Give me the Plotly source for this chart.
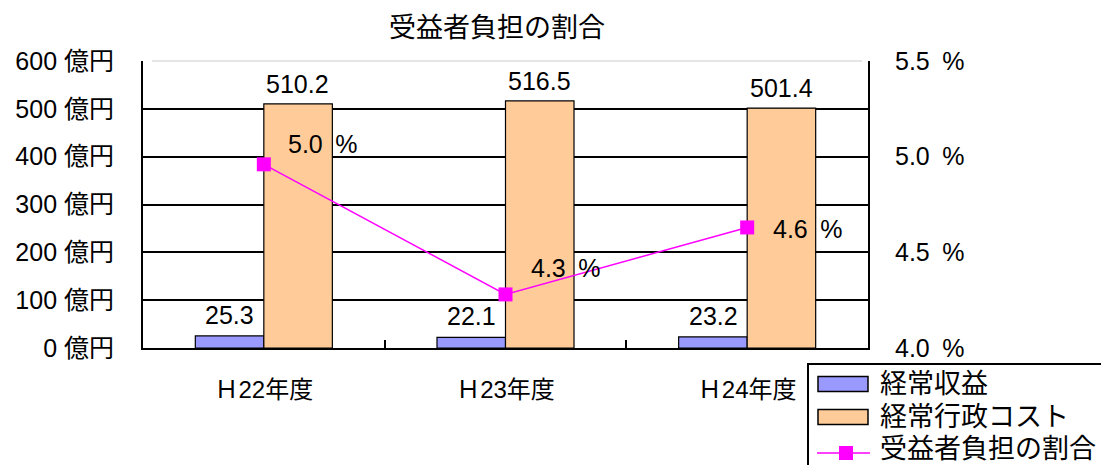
import plotly.graph_objects as go

# Fiscal years and values (億円 / %)
categories = ["Ｈ22年度", "Ｈ23年度", "Ｈ24年度"]
revenue = [25.3, 22.1, 23.2]          # 経常収益
cost = [510.2, 516.5, 501.4]          # 経常行政コスト
ratio = [4.96, 4.28, 4.63]            # 受益者負担の割合 (%)

series_names = ["経常収益", "経常行政コスト", "受益者負担の割合"]
bar_colors = ["#9999FF", "#FFCC99"]
line_color = "#FF00FF"

left_ticks = [0, 100, 200, 300, 400, 500, 600]
right_ticks = [4.0, 4.25, 4.5, 4.75, 5.0, 5.25, 5.5]

# Pixel offsets for the ratio labels (dx, dy)
ratio_label_offsets = [(22, 20), (23, 26), (24, -2)]

W, H = 1101, 465
M_L, M_R, M_T, M_B = 143, 233, 61, 117
PLOT_W = W - M_L - M_R
PLOT_H = H - M_T - M_B

FONT = "Liberation Sans, Arial, 'Noto Sans CJK JP', sans-serif"
NB = "\u00a0"
SP = "\u2002"


def px(x):
    """Page x pixel -> paper coordinate."""
    return (x - M_L) / PLOT_W


def py(y):
    """Page y pixel (from top) -> paper coordinate."""
    return (H - M_B - y) / PLOT_H


fig = go.Figure()
fig.add_trace(go.Bar(
    name=series_names[0], x=categories, y=revenue,
    marker=dict(color=bar_colors[0], line=dict(color="black", width=1.2)),
    offsetgroup="a", showlegend=False,
))
fig.add_trace(go.Bar(
    name=series_names[1], x=categories, y=cost,
    marker=dict(color=bar_colors[1], line=dict(color="black", width=1.2)),
    offsetgroup="b", showlegend=False,
))
fig.add_trace(go.Scatter(
    name=series_names[2], x=categories, y=ratio, yaxis="y2",
    mode="lines+markers",
    line=dict(color=line_color, width=1.5),
    marker=dict(symbol="square", size=14, color=line_color),
    showlegend=False,
))

annotations = []
for cat, v in zip(categories, revenue):
    annotations.append(dict(x=cat, y=v, xref="x", yref="y", text=f"{v:.1f}",
                            showarrow=False, xshift=-34, yshift=5, yanchor="bottom",
                            font=dict(size=25, color="black")))
for cat, v in zip(categories, cost):
    annotations.append(dict(x=cat, y=v, xref="x", yref="y", text=f"{v:.1f}",
                            showarrow=False, xshift=34, yshift=4, yanchor="bottom",
                            font=dict(size=25, color="black")))
for cat, v, (dx, dy) in zip(categories, ratio, ratio_label_offsets):
    annotations.append(dict(x=cat, y=v, xref="x", yref="y2", text=f"{v:.1f}{SP}%",
                            showarrow=False, xshift=dx, yshift=dy, xanchor="left",
                            font=dict(size=25, color="black")))

# Legend box (runs off the bottom-right corner of the page)
shapes = [
    dict(type="line", xref="paper", yref="paper", x0=px(152), x1=px(862), y0=1, y1=1,
         line=dict(color="#cccccc", width=1), layer="above"),
    dict(type="rect", xref="paper", yref="paper", x0=px(808), x1=px(1112),
         y0=py(364), y1=py(478), line=dict(color="black", width=2),
         fillcolor="white", layer="above"),
]
row_y = [384, 417, 449]
for color, yc in zip(bar_colors, row_y[:2]):
    shapes.append(dict(type="rect", xref="paper", yref="paper",
                       x0=px(818), x1=px(868), y0=py(yc - 7.5), y1=py(yc + 7.5),
                       line=dict(color="black", width=1.5), fillcolor=color,
                       layer="above"))
shapes.append(dict(type="line", xref="paper", yref="paper",
                   x0=px(817), x1=px(870), y0=py(row_y[2] + 4), y1=py(row_y[2] + 4),
                   line=dict(color=line_color, width=1.5), layer="above"))
shapes.append(dict(type="rect", xref="paper", yref="paper",
                   x0=px(839), x1=px(853), y0=py(row_y[2] - 3), y1=py(row_y[2] + 11),
                   line=dict(width=0), fillcolor=line_color, layer="above"))
for name, yc in zip(series_names, row_y):
    annotations.append(dict(x=px(878), y=py(yc), xref="paper", yref="paper",
                            text=name, showarrow=False, xanchor="left", yanchor="middle",
                            font=dict(size=27, color="black")))

fig.update_layout(
    width=W, height=H,
    margin=dict(l=M_L, r=M_R, t=M_T, b=M_B, autoexpand=False),
    paper_bgcolor="white", plot_bgcolor="white",
    font=dict(family=FONT, size=25, color="black"),
    title=dict(text="受益者負担の割合", x=px(497), xref="paper", xanchor="center",
               y=1 - 28 / H, yref="container", yanchor="middle", font=dict(size=27)),
    barmode="group", bargap=0.433, bargroupgap=0,
    showlegend=False,
    xaxis=dict(showline=True, linecolor="black", linewidth=2,
               ticks="inside", tickson="boundaries", ticklen=8, tickcolor="black",
               tickwidth=1.5, showgrid=False, ticklabelstandoff=19,
               tickfont=dict(size=24)),
    yaxis=dict(range=[0, 600], tickvals=left_ticks,
               ticktext=[f"{t}{NB}億円" for t in left_ticks],
               showline=True, linecolor="black", linewidth=2,
               ticks="inside", ticklen=8, tickcolor="black", tickwidth=1.5,
               showgrid=True, gridcolor="black", gridwidth=1.5,
               zeroline=False, ticklabelstandoff=22),
    yaxis2=dict(range=[4.0, 5.5], overlaying="y", side="right",
                tickvals=right_ticks,
                ticktext=[f"{t:.1f}{SP}%" if abs(t * 2 - round(t * 2)) < 1e-9 else "" for t in right_ticks],
                showline=True, linecolor="black", linewidth=2,
                ticks="inside", ticklen=8, tickcolor="black", tickwidth=1.5,
                showgrid=False, zeroline=False, ticklabelstandoff=20),
    annotations=annotations,
    shapes=shapes,
)

fig.write_html("out.html")
